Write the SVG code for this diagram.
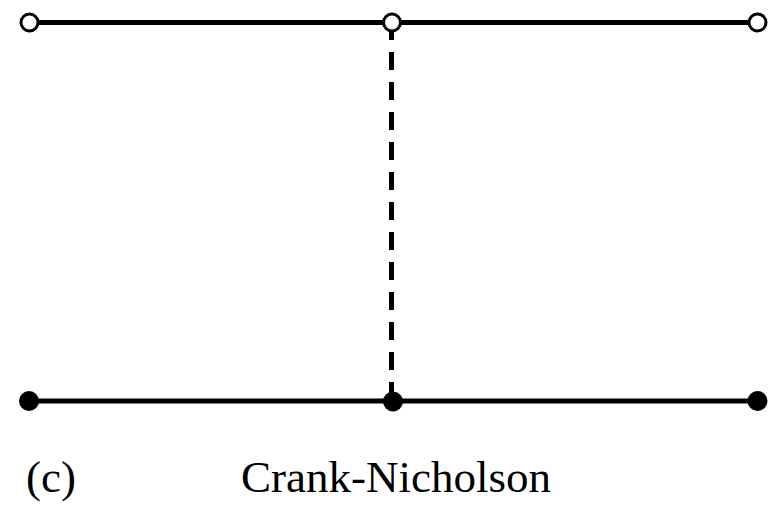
<svg xmlns="http://www.w3.org/2000/svg" width="775" height="509" viewBox="0 0 775 509">
<style>
.line{stroke:#000;stroke-width:5;fill:none}
.dash{stroke:#000;stroke-width:5;fill:none;stroke-dasharray:18 12}
.open{fill:#fff;stroke:#000;stroke-width:3}
.solid{fill:#000;stroke:none}
.lbl{font-family:"Liberation Serif","Times New Roman",serif;font-size:45px;fill:#000}
</style>
<rect width="775" height="509" fill="#fff"/>
<g id="connectors">
<line class="line" x1="29.5" y1="22.5" x2="757.5" y2="22.5"/>
<line class="line" x1="29" y1="401" x2="757.5" y2="401"/>
<line class="dash" x1="391.5" y1="22" x2="391.5" y2="401"/>
</g>
<g id="node-top-left"><circle class="open" cx="29.5" cy="22.5" r="8.5"/></g>
<g id="node-top-mid"><circle class="open" cx="392" cy="22.5" r="8.5"/></g>
<g id="node-top-right"><circle class="open" cx="757.5" cy="22.5" r="8.5"/></g>
<g id="node-bot-left"><circle class="solid" cx="29" cy="401" r="10"/></g>
<g id="node-bot-mid"><circle class="solid" cx="393" cy="401.5" r="10"/></g>
<g id="node-bot-right"><circle class="solid" cx="757.5" cy="401" r="10"/></g>
<g id="labels">
<text class="lbl" x="26" y="492">(c)</text>
<text class="lbl" x="241" y="492">Crank-Nicholson</text>
</g>
</svg>
